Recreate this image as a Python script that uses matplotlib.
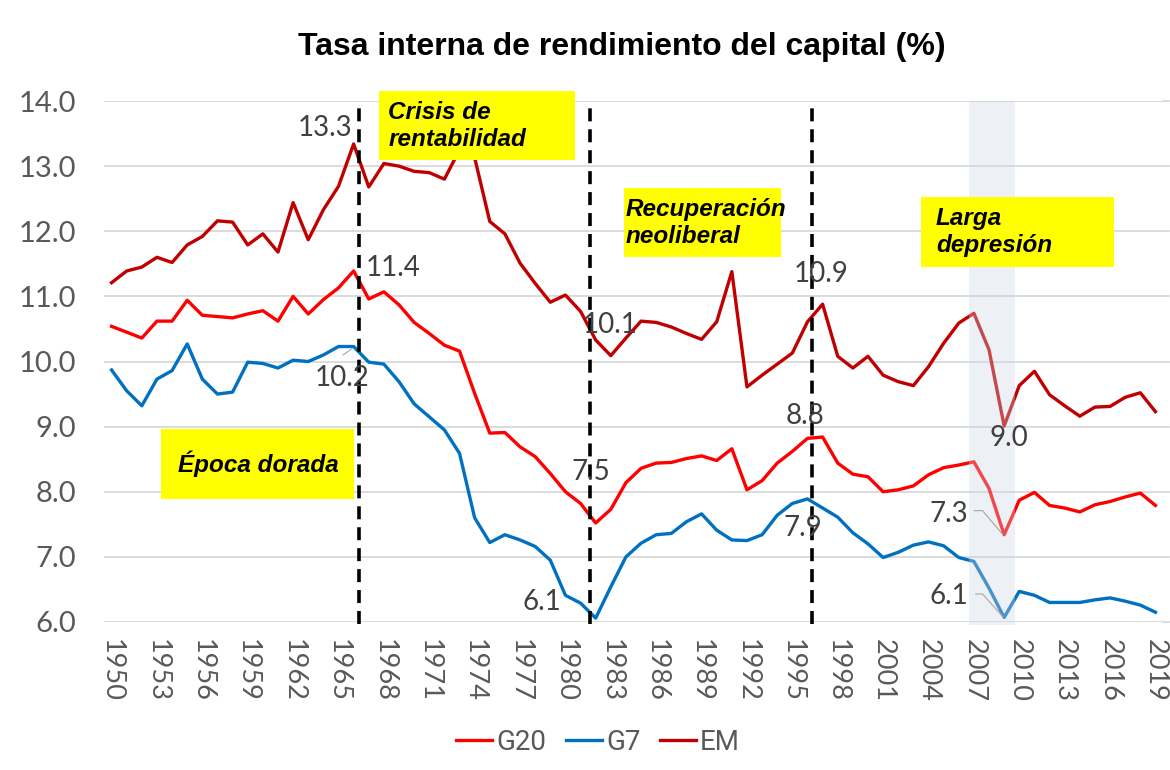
import matplotlib
matplotlib.use("Agg")
import matplotlib.pyplot as plt
from matplotlib.patches import Rectangle
from matplotlib.lines import Line2D
import numpy as np

# ---------------- data ----------------
years = list(range(1950, 2020))

g20 = [10.54, 10.45, 10.36, 10.62, 10.62, 10.94, 10.71, 10.69, 10.67, 10.73,
       10.78, 10.62, 11.00, 10.73, 10.95, 11.13, 11.39, 10.96, 11.07, 10.87,
       10.60, 10.43, 10.25, 10.16, 9.51, 8.90, 8.91, 8.69, 8.54, 8.28,
       8.00, 7.82, 7.52, 7.73, 8.14, 8.36, 8.44, 8.45, 8.51, 8.55,
       8.48, 8.66, 8.03, 8.17, 8.44, 8.62, 8.82, 8.84, 8.44, 8.27,
       8.23, 8.00, 8.03, 8.09, 8.26, 8.37, 8.41, 8.46, 8.05, 7.34,
       7.87, 7.99, 7.79, 7.75, 7.69, 7.80, 7.85, 7.92, 7.98, 7.79]

g7 = [9.87, 9.55, 9.32, 9.73, 9.86, 10.27, 9.73, 9.50, 9.53, 9.99,
      9.97, 9.90, 10.02, 10.00, 10.10, 10.23, 10.23, 9.99, 9.96, 9.69,
      9.35, 9.15, 8.95, 8.59, 7.60, 7.22, 7.34, 7.26, 7.16, 6.95,
      6.41, 6.29, 6.06, 6.54, 7.00, 7.21, 7.34, 7.36, 7.54, 7.66,
      7.41, 7.26, 7.25, 7.34, 7.64, 7.82, 7.89, 7.75, 7.61, 7.37,
      7.20, 6.99, 7.07, 7.18, 7.23, 7.17, 6.99, 6.93, 6.52, 6.07,
      6.47, 6.41, 6.30, 6.30, 6.30, 6.34, 6.37, 6.32, 6.26, 6.15]

em = [11.21, 11.39, 11.45, 11.60, 11.52, 11.79, 11.92, 12.16, 12.14, 11.79,
      11.96, 11.68, 12.44, 11.87, 12.33, 12.69, 13.34, 12.68, 13.04, 13.00,
      12.92, 12.90, 12.80, 13.25, 13.13, 12.15, 11.96, 11.51, 11.20, 10.91,
      11.02, 10.77, 10.33, 10.09, 10.36, 10.62, 10.60, 10.53, 10.43, 10.34,
      10.61, 11.38, 9.61, 9.79, 9.96, 10.13, 10.61, 10.88, 10.08, 9.90,
      10.08, 9.79, 9.69, 9.63, 9.92, 10.28, 10.59, 10.74, 10.18, 9.01,
      9.63, 9.85, 9.49, 9.32, 9.16, 9.30, 9.31, 9.45, 9.52, 9.23]

series_names = ["G20", "G7", "EM"]
series_colors = ["#ff0000", "#0070c0", "#c00000"]

yticks = [6.0, 7.0, 8.0, 9.0, 10.0, 11.0, 12.0, 13.0, 14.0]
xtick_years = list(range(1950, 2020, 3))

period_lines = [1966.34, 1981.6, 1996.28]
shade_span = (2006.7, 2009.7)

# data labels: (text, x, y)
data_labels = [("13.3", 1964.12, 13.59), ("11.4", 1968.6, 11.44), ("10.2", 1965.25, 9.75),
               ("10.1", 1982.95, 10.56), ("7.5", 1981.7, 8.30), ("6.1", 1978.45, 6.31),
               ("8.8", 1995.81, 9.16), ("7.9", 1995.68, 7.44), ("10.9", 1996.87, 11.34),
               ("9.0", 2009.3, 8.83), ("7.3", 2005.32, 7.66), ("6.1", 2005.35, 6.40)]

# leader lines (label -> point)
leaders = [([2007.02, 2007.57, 2008.92], [7.71, 7.71, 7.34]),
           ([2007.13, 2007.57, 2008.92], [6.43, 6.43, 6.08]),
           ([1965.3, 1965.85], [10.1, 10.19])]

# yellow annotation boxes: (text, x0, x1, y0, y1, text_x, ha)
boxes = [("Crisis de\nrentabilidad", 1967.7, 1980.65, 13.09, 14.15, 1968.3, "left"),
         ("Recuperación\nneoliberal", 1983.85, 1994.25, 11.60, 12.66, 1983.95, "left"),
         ("Larga\ndepresión", 2003.5, 2016.25, 11.45, 12.53, 2004.5, "left"),
         ("Época dorada", 1953.3, 1966.05, 7.89, 8.96, 1954.4, "left")]

# ---------------- figure ----------------
fig = plt.figure(figsize=(11.7, 7.7), dpi=100)
ax = fig.add_axes([104 / 1170, (770 - 622) / 770, (1163 - 104) / 1170, (622 - 101) / 770])

grey_txt = "#595959"
lbl_font = "Lato"

for vals, name, col in zip([g20, g7, em], series_names, series_colors):
    ax.plot(years, vals, color=col, lw=2.4, solid_joinstyle="round", zorder=3, label=name)

ax.set_xlim(1949.5, 2019.5)
ax.set_ylim(6.0, 14.0)
ax.set_yticks(yticks)
ax.set_yticklabels([f"{v:.1f}" for v in yticks], fontsize=21, color=grey_txt, family=lbl_font)
ax.set_xticks(xtick_years)
ax.set_xticklabels([str(y) for y in xtick_years], rotation=-90, fontsize=19.5, color=grey_txt,
                   family=lbl_font, va="top", ha="center")
ax.tick_params(axis="y", length=0, pad=20)
ax.tick_params(axis="x", length=0, pad=12)
for s in ax.spines.values():
    s.set_visible(False)
ax.grid(axis="y", color="#d9d9d9", lw=1.3, zorder=0)
ax.set_axisbelow(True)
# extend gridlines to the right edge like the reference
for yv in yticks:
    ax.plot([2019.5, 2019.9], [yv, yv], color="#d9d9d9", lw=1.3, zorder=0, clip_on=False)

# shaded band on top of lines
ax.add_patch(Rectangle((shade_span[0], 5.95), shade_span[1] - shade_span[0], 8.05,
                       facecolor=(206 / 255, 212 / 255, 224 / 255), alpha=0.35,
                       edgecolor="none", zorder=4, clip_on=False))

# dashed period lines
for xv in period_lines:
    ax.plot([xv, xv], [5.97, 14.0], color="black", lw=2.6, dashes=(3.6, 2.2), zorder=5,
            clip_on=False)

# leader lines
for lx, ly in leaders:
    ax.plot(lx, ly, color="#a6a6a6", lw=0.8, zorder=5)

# data labels
for t, x, y in data_labels:
    ax.text(x, y, t, fontsize=20, color="#404040", family=lbl_font, ha="center", va="center",
            zorder=6)

# yellow boxes
for t, x0, x1, y0, y1, tx, ha in boxes:
    ax.add_patch(Rectangle((x0, y0), x1 - x0, y1 - y0, facecolor="#ffff00", edgecolor="none",
                           zorder=7, clip_on=False))
    ax.text(tx, (y0 + y1) / 2, t, fontsize=17.5, fontweight="bold", fontstyle="italic",
            family="Liberation Sans", color="black", ha=ha, va="center", zorder=8,
            linespacing=1.2, clip_on=False)

# title
fig.text(622 / 1170, 1 - 47 / 770, "Tasa interna de rendimiento del capital (%)",
         fontsize=23, fontweight="bold", family="Liberation Sans", ha="center", va="center",
         color="black")

# legend
handles = [Line2D([0], [0], color=c, lw=2.4) for c in series_colors]
leg = fig.legend(handles, series_names, loc="center", bbox_to_anchor=(598 / 1170, 1 - 742 / 770),
                 ncol=3, frameon=False, handlelength=1.3, handletextpad=0.15, columnspacing=0.7,
                 prop={"family": "Roboto", "size": 20})
for t in leg.get_texts():
    t.set_color(grey_txt)

fig.savefig("out.png", dpi=100)
